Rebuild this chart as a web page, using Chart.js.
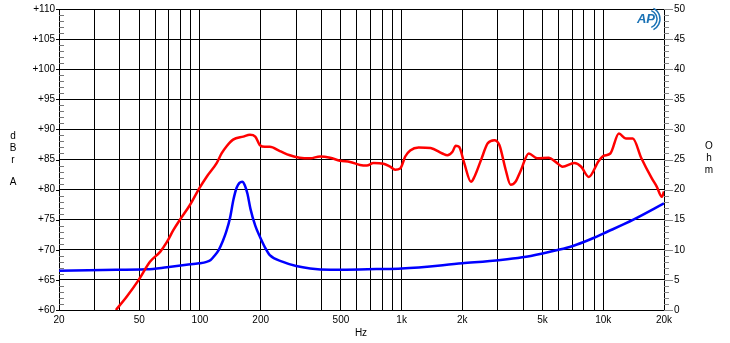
<!DOCTYPE html>
<html>
<head>
<meta charset="utf-8">
<script src="https://cdn.jsdelivr.net/npm/chart.js@4"></script>
<style>
  body { margin: 0; background: #fff; }
  canvas { display: block; }
</style>
</head>
<body>
<canvas id="chart" width="730" height="343"></canvas>
<script>
// response curve (dBrA)
const splFreq = [38.3, 43.3, 49.7, 56.5, 63.6, 68.6, 73.9, 79.6, 89, 99.2, 107.8, 121, 128, 135.6, 146, 164, 177, 188, 198, 210, 222, 249, 279, 312, 352, 394, 442, 495, 555, 622, 672, 725, 813, 877, 929, 984, 1042, 1103, 1214, 1391, 1592, 1686, 1787, 1856, 1929, 2044, 2208, 2294, 2475, 2673, 2883, 3053, 3280, 3470, 3670, 3880, 4270, 4700, 5370, 5800, 6280, 7180, 7770, 8470, 9470, 10020, 10840, 11950, 12940, 14000, 15450, 17380, 18410, 19520, 20000];
const splDb = [60, 62.2, 65, 68, 69.7, 71.3, 73.3, 75, 77.4, 80.2, 82.1, 84.4, 86, 87.2, 88.3, 88.8, 89.1, 88.8, 87.4, 87.1, 87.1, 86.4, 85.7, 85.3, 85.2, 85.5, 85.3, 84.8, 84.6, 84.1, 84, 84.4, 84.3, 83.8, 83.3, 83.5, 85.5, 86.5, 87, 86.9, 86, 85.7, 86.3, 87.3, 87.1, 84.4, 81.3, 82.1, 84.9, 87.7, 88.2, 87.4, 83.3, 80.8, 81.3, 83, 86, 85.2, 85.3, 84.6, 83.8, 84.4, 83.8, 82.1, 84.7, 85.6, 86, 89.3, 88.5, 88.5, 85.2, 81.9, 80.5, 78.8, 79.7];

// impedance (Ohm)
const impFreq = [20, 33, 54.6, 68.6, 85.7, 99, 107.8, 113, 118, 124, 130, 135, 141, 146.5, 152, 157, 162, 167, 172, 178, 188, 198, 210, 222, 258, 300, 352, 442, 500, 750, 1000, 2000, 3100, 3964, 5000, 6000, 7000, 8000, 9000, 10000, 14100, 20000];
const impOhm = [6.5, 6.65, 6.75, 7.1, 7.5, 7.75, 8, 8.3, 9, 10, 11.5, 13, 15.3, 18.3, 20.3, 21.1, 21.3, 20.7, 19.3, 16.8, 14, 12.2, 10.4, 9.1, 8, 7.3, 6.9, 6.7, 6.7, 6.8, 6.9, 7.75, 8.3, 8.75, 9.4, 10, 10.6, 11.3, 12, 12.7, 15, 17.7];

const gridFreqs = [20, 30, 40, 50, 60, 70, 80, 90, 100, 200, 300, 400, 500, 600, 700, 800, 900, 1000, 2000, 3000, 4000, 5000, 6000, 7000, 8000, 9000, 10000, 20000];
const labelFreqs = [20, 50, 100, 200, 500, 1000, 2000, 5000, 10000, 20000];
const labelText = ['20', '50', '100', '200', '500', '1k', '2k', '5k', '10k', '20k'];

const FONT = 'Liberation Sans, Arial, sans-serif';

const extras = {
  id: 'extras',
  afterDraw(chart) {
    const ctx = chart.ctx;
    const a = chart.chartArea;
    const yl = chart.scales.y, yr = chart.scales.y2;
    ctx.save();
    ctx.lineWidth = 1;
    for (let v = 60; v <= 110; v++) {
      const y = Math.round(yl.getPixelForValue(v)) + 0.5;
      ctx.beginPath();
      if (v % 5) { ctx.strokeStyle = '#777'; ctx.moveTo(a.left, y); ctx.lineTo(a.left + 5, y); }
      else { ctx.strokeStyle = '#000'; ctx.moveTo(a.left - 3, y); ctx.lineTo(a.left, y); }
      ctx.stroke();
    }
    for (let v = 0; v <= 50; v++) {
      const y = Math.round(yr.getPixelForValue(v)) + 0.5;
      ctx.beginPath();
      ctx.strokeStyle = '#888';
      ctx.moveTo(a.right, y);
      ctx.lineTo(a.right + (v % 5 ? 5 : 9), y);
      ctx.stroke();
    }
    // axis titles
    ctx.fillStyle = '#000';
    ctx.font = '10px ' + FONT;
    ctx.textAlign = 'center';
    ctx.textBaseline = 'middle';
    ctx.fillText('Hz', 361, 333);
    [['d', 136], ['B', 148], ['r', 160], ['A', 182]].forEach(([t, y]) => ctx.fillText(t, 13, y));
    [['O', 146], ['h', 158], ['m', 170]].forEach(([t, y]) => ctx.fillText(t, 709, y));
    // AP logo
    ctx.fillStyle = '#1a72b5';
    ctx.strokeStyle = '#1a72b5';
    ctx.font = 'italic bold 13px ' + FONT;
    ctx.fillText('AP', 646, 19);
    ctx.lineWidth = 1.5;
    ctx.beginPath(); ctx.arc(648, 19, 9, -1.2, 1.2); ctx.stroke();
    ctx.beginPath(); ctx.arc(648, 19, 12, -1.1, 1.1); ctx.stroke();
    ctx.restore();
  }
};

const fitY = w => s => { s.width = w; s.paddingTop = 0; s.paddingBottom = 0; };

new Chart(document.getElementById('chart'), {
  type: 'line',
  data: {
    datasets: [
      {
        data: splFreq.map((f, i) => ({ x: f, y: splDb[i] })),
        borderColor: '#ff0000',
        borderWidth: 2.5,
        pointRadius: 0,
        cubicInterpolationMode: 'monotone',
        yAxisID: 'y'
      },
      {
        data: impFreq.map((f, i) => ({ x: f, y: impOhm[i] })),
        borderColor: '#0000ff',
        borderWidth: 2.5,
        pointRadius: 0,
        cubicInterpolationMode: 'monotone',
        yAxisID: 'y2'
      }
    ]
  },
  options: {
    responsive: false,
    animation: false,
    devicePixelRatio: 1,
    layout: { padding: { top: 9 } },
    plugins: { legend: { display: false }, tooltip: { enabled: false } },
    scales: {
      x: {
        type: 'logarithmic',
        min: 20,
        max: 20000,
        afterBuildTicks: s => { s.ticks = gridFreqs.map(v => ({ value: v })); },
        afterFit: s => { s.height = 33; },
        grid: { color: '#000', drawTicks: false },
        border: { color: '#000' },
        ticks: {
          autoSkip: false,
          maxRotation: 0,
          padding: 4,
          color: '#000',
          font: { family: FONT, size: 10 },
          callback: v => { const i = labelFreqs.indexOf(v); return i < 0 ? '' : labelText[i]; }
        }
      },
      y: {
        position: 'left',
        min: 60,
        max: 110,
        afterFit: fitY(59),
        grid: { color: '#000', drawTicks: false },
        border: { color: '#000' },
        ticks: {
          stepSize: 5,
          padding: 4,
          color: '#000',
          font: { family: FONT, size: 10 },
          callback: v => '+' + v
        }
      },
      y2: {
        position: 'right',
        min: 0,
        max: 50,
        afterFit: fitY(66),
        grid: { drawOnChartArea: false, drawTicks: false },
        border: { color: '#000' },
        ticks: {
          stepSize: 5,
          padding: 10,
          color: '#000',
          font: { family: FONT, size: 10 }
        }
      }
    }
  },
  plugins: [extras]
});
</script>
</body>
</html>
